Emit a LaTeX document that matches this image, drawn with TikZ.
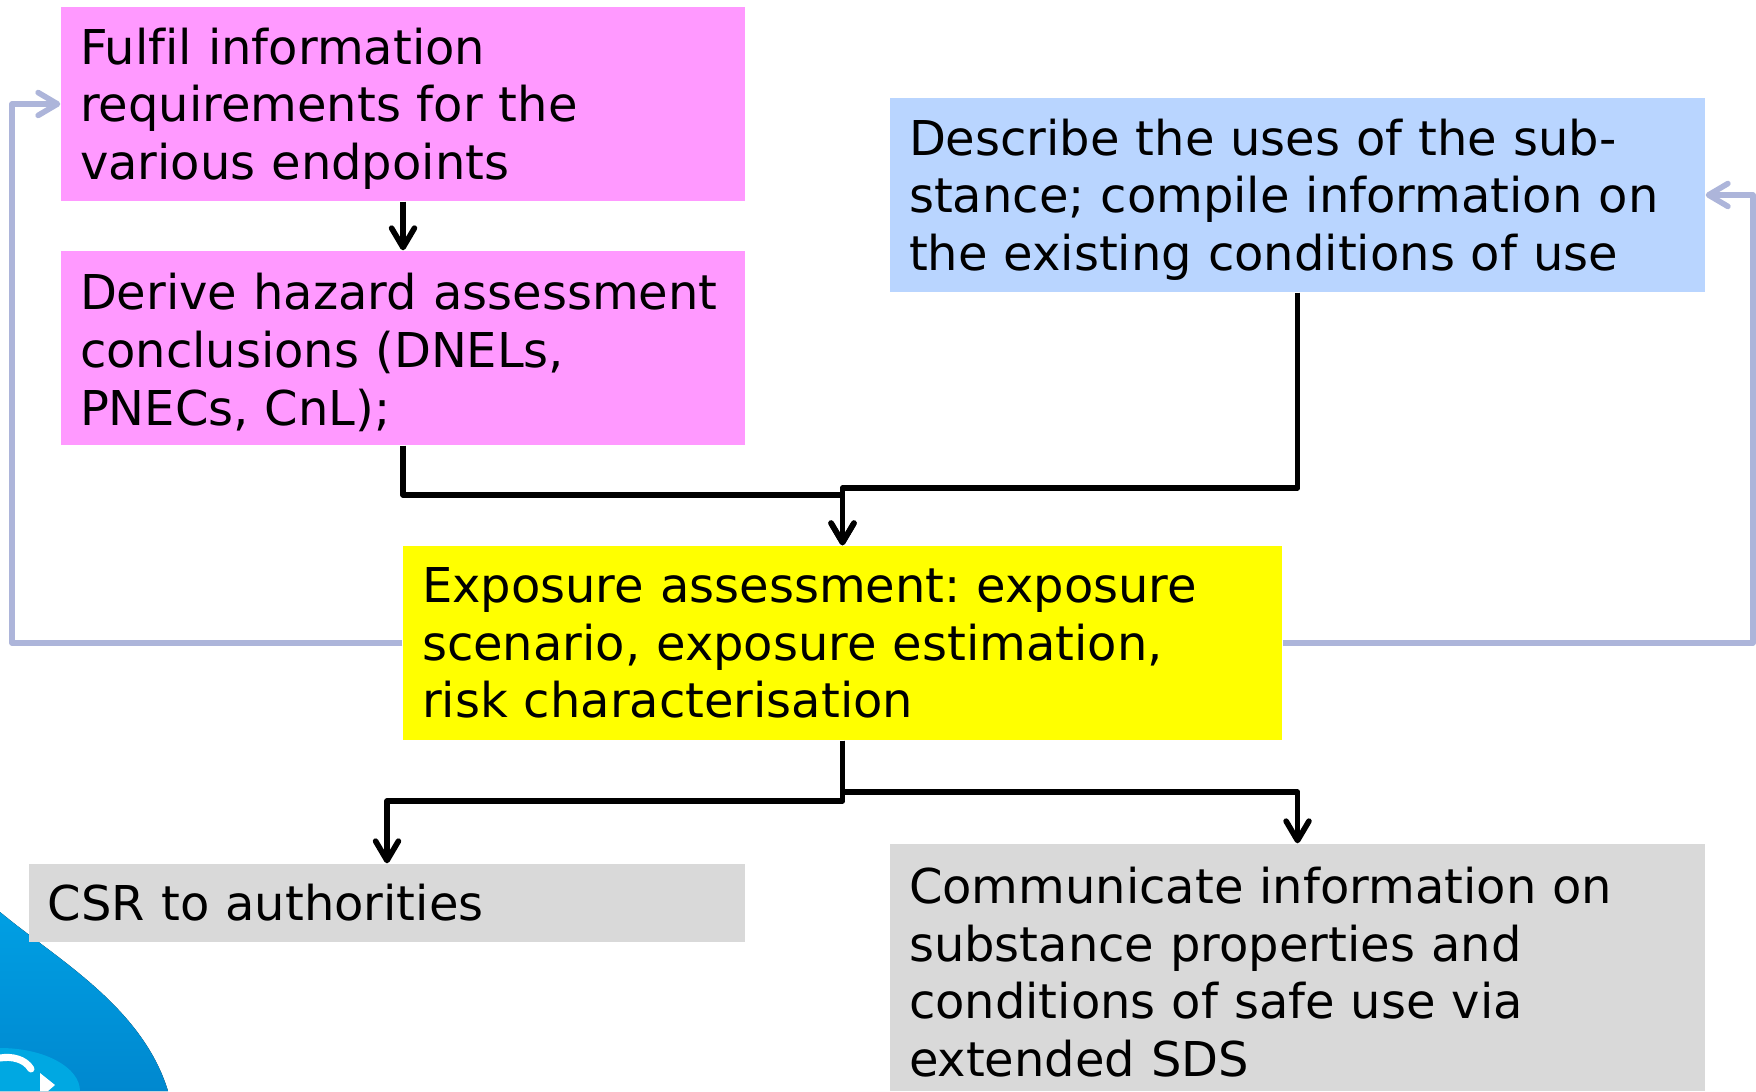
\documentclass[tikz,border=0pt]{standalone}
\usepackage{xcolor}
\usepackage{fontspec}
\setmainfont{DejaVu Sans}[Ligatures=CommonOff]
\usepackage{tikz}
\usetikzlibrary{calc}
\usetikzlibrary{arrows.meta}
\definecolor{boxpink}{HTML}{FF99FF}
\definecolor{boxblue}{HTML}{B9D5FF}
\definecolor{boxgrey}{HTML}{D9D9D9}
\definecolor{boxyellow}{HTML}{FFFF00}
\definecolor{backline}{HTML}{ADB5DA}
\definecolor{logodark}{HTML}{0088CF}
\definecolor{logolight}{HTML}{009FE3}
\definecolor{logoglow}{HTML}{00A8E2}
\tikzstyle{box} = [rectangle, inner xsep=0.19cm, inner ysep=0cm, align=left, font=\fontsize{13.65pt}{16.45pt}\selectfont\frenchspacing]
\tikzstyle{lowbox} = [box, execute at begin node={\rule{0pt}{13pt}}]
\tikzstyle{flow} = [line width=1.6pt, line join=round, -{Straight Barb[length=5.5pt, width=6.5pt, line width=1.6pt, round]}, draw=black]
\tikzstyle{back} = [flow, draw=backline]

\begin{document}
\begin{tikzpicture}
\useasboundingbox (0, 0) rectangle (17.56, 10.91);
\fill [top color=logolight, bottom color=logodark] (0, 1.79) .. controls (0.55, 1.33) and (1.42, 0.85) .. (1.68, 0) -- (0, 0) -- cycle;
\fill [logoglow] (0, 0.43) arc [start angle=90, end angle=0, x radius=0.8, y radius=0.43] -- (0, 0) -- cycle;
\draw [white, line width=2pt, line cap=round] (0, 0.33) .. controls (0.12, 0.35) and (0.25, 0.32) .. (0.31, 0.22);
\fill [white] (0.4, 0.18) -- (0.55, 0.06) -- (0.48, 0) -- (0.4, 0) -- cycle;
\node [lowbox, fill=boxpink, text width=6.46cm, minimum height=1.94cm] (Fulfil) at (4.03, 9.87) {Fulfil information\\requirements for the\\various endpoints};
\node [lowbox, fill=boxpink, text width=6.46cm, minimum height=1.94cm] (Derive) at (4.03, 7.43) {Derive hazard assessment\\conclusions (DNELs,\\PNECs, CnL);};
\node [lowbox, fill=boxblue, text width=7.77cm, minimum height=1.94cm] (Describe) at (12.975, 8.96) {Describe the uses of the sub-\\stance; compile information on\\the existing conditions of use};
\node [box, fill=boxyellow, text width=8.41cm, minimum height=1.94cm] (Exposure) at (8.425, 4.48) {Exposure assessment: exposure\\scenario, exposure estimation,\\risk characterisation};
\node [box, fill=boxgrey, text width=6.78cm, minimum height=0.78cm] (CSR) at (3.87, 1.88) {CSR to authorities};
\node [lowbox, fill=boxgrey, text width=7.77cm, minimum height=2.47cm] (Communicate) at (12.975, 1.235) {Communicate information on\\substance properties and\\conditions of safe use via\\extended SDS};
\coordinate (JoinL) at (8.425, 5.96);
\coordinate (JoinR) at (8.425, 6.03);
\coordinate (SplitL) at (8.425, 2.9);
\coordinate (SplitR) at (8.425, 2.99);
\coordinate (BackL) at (0.12, 4.48);
\coordinate (BackR) at (17.53, 4.48);
\draw [flow] (Fulfil) to (Derive);
\draw [flow] (Derive.south) |- (JoinL) -- (Exposure.north);
\draw [flow] (Describe.south) |- (JoinR) -- (Exposure.north);
\draw [flow] (Exposure.south) -- (SplitL) -| (CSR.north);
\draw [flow] (Exposure.south) -- (SplitR) -| (Communicate.north);
\draw [back] (Exposure.west) -- (BackL) |- (Fulfil.west);
\draw [back] (Exposure.east) -- (BackR) |- (Describe.east);
\end{tikzpicture}
\end{document}
